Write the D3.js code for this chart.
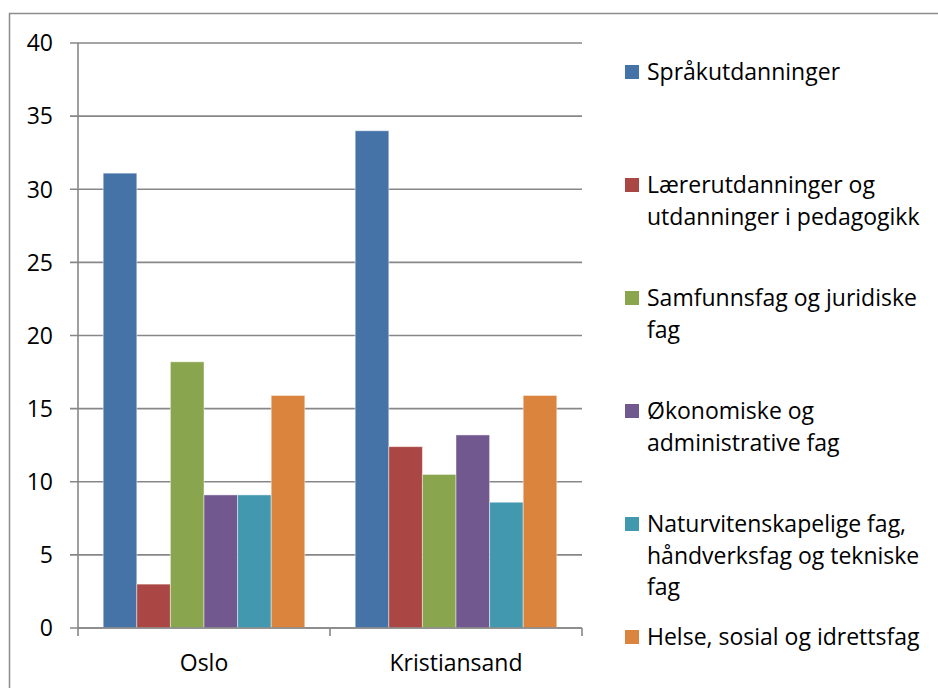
<!DOCTYPE html>
<html>
<head>
<meta charset="utf-8">
<script src="https://cdn.jsdelivr.net/npm/d3@7"></script>
<style>
  body { margin: 0; background: #fff; }
  svg { display: block; font-family: "Open Sans", sans-serif; }
</style>
</head>
<body>
<script>
// data
var cities = ["Oslo", "Kristiansand"];
var fields = [
    "Språkutdanninger",
    "Lærerutdanninger og utdanninger i pedagogikk",
    "Samfunnsfag og juridiske fag",
    "Økonomiske og administrative fag",
    "Naturvitenskapelige fag, håndverksfag og tekniske fag",
    "Helse, sosial og idrettsfag"
];
// legend lines as wrapped in the chart
var legendLines = [
    ["Språkutdanninger"],
    ["Lærerutdanninger og", "utdanninger i pedagogikk"],
    ["Samfunnsfag og juridiske", "fag"],
    ["Økonomiske og", "administrative fag"],
    ["Naturvitenskapelige fag,", "håndverksfag og tekniske", "fag"],
    ["Helse, sosial og idrettsfag"]
];
var osloValues = [31.1, 3.0, 18.2, 9.1, 9.1, 15.9];
var kristiansandValues = [34.0, 12.4, 10.5, 13.2, 8.6, 15.9];
var yTicks = [0, 5, 10, 15, 20, 25, 30, 35, 40];
var colors = ["#4572A7", "#AA4643", "#89A54E", "#71588F", "#4198AF", "#DB843D"];

var values = [osloValues, kristiansandValues];

var width = 938, height = 688;
var svg = d3.select("body").append("svg")
    .attr("width", width)
    .attr("height", height);

// outer chart border
svg.append("rect")
    .attr("x", 9.5).attr("y", 13.5)
    .attr("width", 940).attr("height", 700)
    .attr("fill", "none")
    .attr("stroke", "#8c8c8c")
    .attr("stroke-width", 1.5);

var plotLeft = 78, plotRight = 582, plotTop = 43, plotBottom = 628;
var fontSize = 23;

var y = d3.scaleLinear().domain([0, 40]).range([plotBottom, plotTop]);
var x0 = d3.scaleBand().domain(cities).range([plotLeft, plotRight]).paddingInner(0).paddingOuter(0);
// gap width 150% -> 1.5 bar widths per group
var x1 = d3.scaleBand().domain(d3.range(fields.length))
    .range([0, x0.bandwidth()])
    .paddingInner(0)
    .paddingOuter(0.75);

// gridlines
svg.append("g")
    .selectAll("line")
    .data(yTicks)
    .join("line")
    .attr("x1", plotLeft - 8)
    .attr("x2", plotRight)
    .attr("y1", d => y(d))
    .attr("y2", d => y(d))
    .attr("stroke", "#878787")
    .attr("stroke-width", 1.6);

// y labels
svg.append("g")
    .selectAll("text")
    .data(yTicks)
    .join("text")
    .attr("x", 53)
    .attr("y", d => y(d))
    .attr("dy", "0.36em")
    .attr("text-anchor", "end")
    .attr("font-size", fontSize)
    .attr("fill", "#000")
    .text(d => d);

// bars
svg.append("g")
    .selectAll("g")
    .data(cities)
    .join("g")
    .attr("transform", d => `translate(${x0(d)},0)`)
    .selectAll("rect")
    .data((d, i) => values[i].map((v, j) => ({ v: v, j: j })))
    .join("rect")
    .attr("x", d => x1(d.j))
    .attr("width", x1.bandwidth())
    .attr("y", d => y(d.v))
    .attr("height", d => y(0) - y(d.v))
    .attr("fill", d => colors[d.j])
    .attr("stroke", "#ffffff")
    .attr("stroke-opacity", 0.45)
    .attr("stroke-width", 1);

// y axis line
svg.append("line")
    .attr("x1", plotLeft).attr("x2", plotLeft)
    .attr("y1", plotTop).attr("y2", plotBottom)
    .attr("stroke", "#878787")
    .attr("stroke-width", 1.6);

// x axis line + ticks
svg.append("line")
    .attr("x1", plotLeft).attr("x2", plotRight)
    .attr("y1", plotBottom).attr("y2", plotBottom)
    .attr("stroke", "#878787")
    .attr("stroke-width", 1.6);

var catTicks = cities.map(c => x0(c)).concat([plotRight]);
svg.append("g")
    .selectAll("line")
    .data(catTicks)
    .join("line")
    .attr("x1", d => d).attr("x2", d => d)
    .attr("y1", plotBottom).attr("y2", plotBottom + 8)
    .attr("stroke", "#878787")
    .attr("stroke-width", 1.6);

svg.append("g")
    .selectAll("text")
    .data(cities)
    .join("text")
    .attr("x", d => x0(d) + x0.bandwidth() / 2)
    .attr("y", 663)
    .attr("dy", "0.36em")
    .attr("text-anchor", "middle")
    .attr("font-size", fontSize)
    .text(d => d);

// legend
var legend = svg.append("g")
    .selectAll("g")
    .data(fields)
    .join("g")
    .attr("transform", (d, i) => `translate(625,${72 + i * 113})`);

legend.append("rect")
    .attr("x", 0)
    .attr("y", -7)
    .attr("width", 14)
    .attr("height", 14)
    .attr("fill", (d, i) => colors[i]);

legend.append("text")
    .attr("font-size", fontSize)
    .selectAll("tspan")
    .data((d, i) => legendLines[i])
    .join("tspan")
    .attr("x", 22)
    .attr("y", (d, k) => k * 31.5)
    .attr("dy", "0.36em")
    .text(d => d);
</script>
</body>
</html>
